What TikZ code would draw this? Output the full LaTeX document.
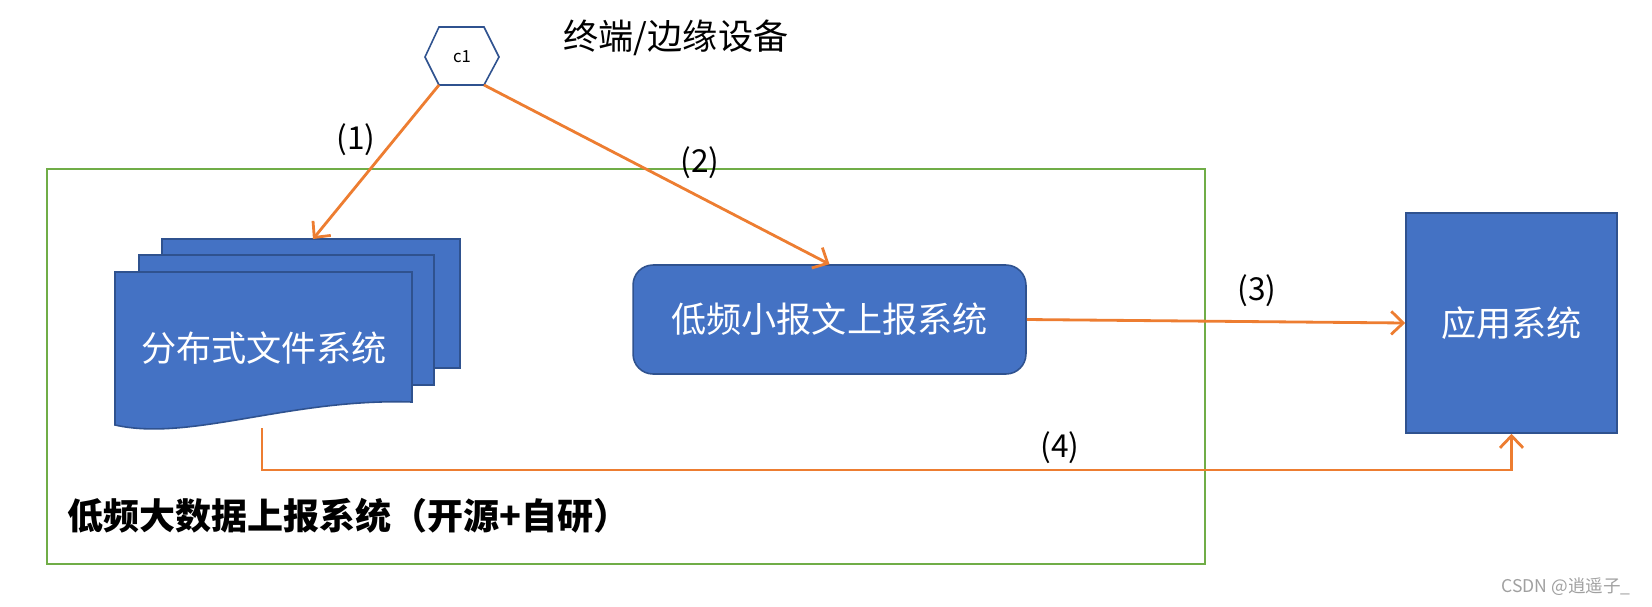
\documentclass[tikz,border=0pt]{standalone}
\usepackage{fontspec}
\setmainfont{Noto Sans CJK SC}
\usepackage{tikz}
\usetikzlibrary{arrows.meta,positioning,calc}
\definecolor{offblue}{HTML}{4472C4}
\definecolor{offedge}{HTML}{2F528F}
\definecolor{offorange}{HTML}{ED7D31}
\definecolor{offgreen}{HTML}{70AD47}
\definecolor{wmgrey}{HTML}{A0A0A0}
\tikzset{
  sysbox/.style={draw=offedge,fill=offblue,line width=0.9pt,text=white,inner sep=0pt,
    font=\fontsize{20}{24}\selectfont},
  docpage/.style={draw=offedge,fill=offblue,line width=0.9pt},
  flow/.style={offorange,line width=1.6pt,-{Straight Barb[length=2.4mm,width=4.6mm]}},
  steplabel/.style={font=\fontsize{18}{22}\selectfont}
}

\begin{document}
\begin{tikzpicture}[x=0.02cm,y=-0.02cm]
\useasboundingbox (0,0) rectangle (1652,606);
\draw[offgreen,line width=0.8pt] (47,169) rectangle (1205,564);
\node[font=\bfseries\fontsize{20.5}{24}\selectfont,anchor=west,inner sep=0pt] (bigsys) at (67,516) {低频大数据上报系统（开源+自研）};
\draw[offedge,line width=0.9pt,fill=white] (425,57) -- (439,27) -- (484,27) -- (499,57) -- (484,85) -- (439,85) -- cycle;
\node[font=\fontsize{9.5}{11}\selectfont] (c1) at (462,57) {c1};
\coordinate (c1sw) at (439,85);
\coordinate (c1se) at (484,85);
\node[font=\fontsize{20}{24}\selectfont] (edge) at (676,38) {终端/边缘设备};
\draw[docpage] (162,239) rectangle (460,368);
\draw[docpage] (139,255) rectangle (434,385);
\draw[docpage] (115,272) -- (412,272) -- (412,402) .. controls (290,398) and (190,442) .. (115,425) -- cycle;
\node[text=white,font=\fontsize{20}{24}\selectfont] (dfs) at (264,348) {分布式文件系统};
\coordinate (dfstop) at (313,239);
\coordinate (dfsbot) at (262,428);
\node[sysbox,rounded corners=0.4cm,minimum width=7.86cm,minimum height=2.18cm] (msg) at (829.5,319.5) {低频小报文上报系统};
\node[sysbox,minimum width=4.22cm,minimum height=4.4cm] (app) at (1511.5,323) {应用系统};
\draw[flow] (c1sw) -- (dfstop);
\draw[flow] (c1se) -- (msg.north);
\draw[flow] (msg.east) -- (app.west);
\draw[flow] (dfsbot) -- ++(0,42) -| (app.south);
\node[steplabel] (s1) at (356,140) {(1)};
\node[steplabel] (s2) at (700,163) {(2)};
\node[steplabel] (s3) at (1257,291) {(3)};
\node[steplabel] (s4) at (1060,448) {(4)};
\node[text=wmgrey,font=\fontsize{10}{12}\selectfont] (mark) at (1566,587) {CSDN @逍遥子\_};
\end{tikzpicture}
\end{document}
